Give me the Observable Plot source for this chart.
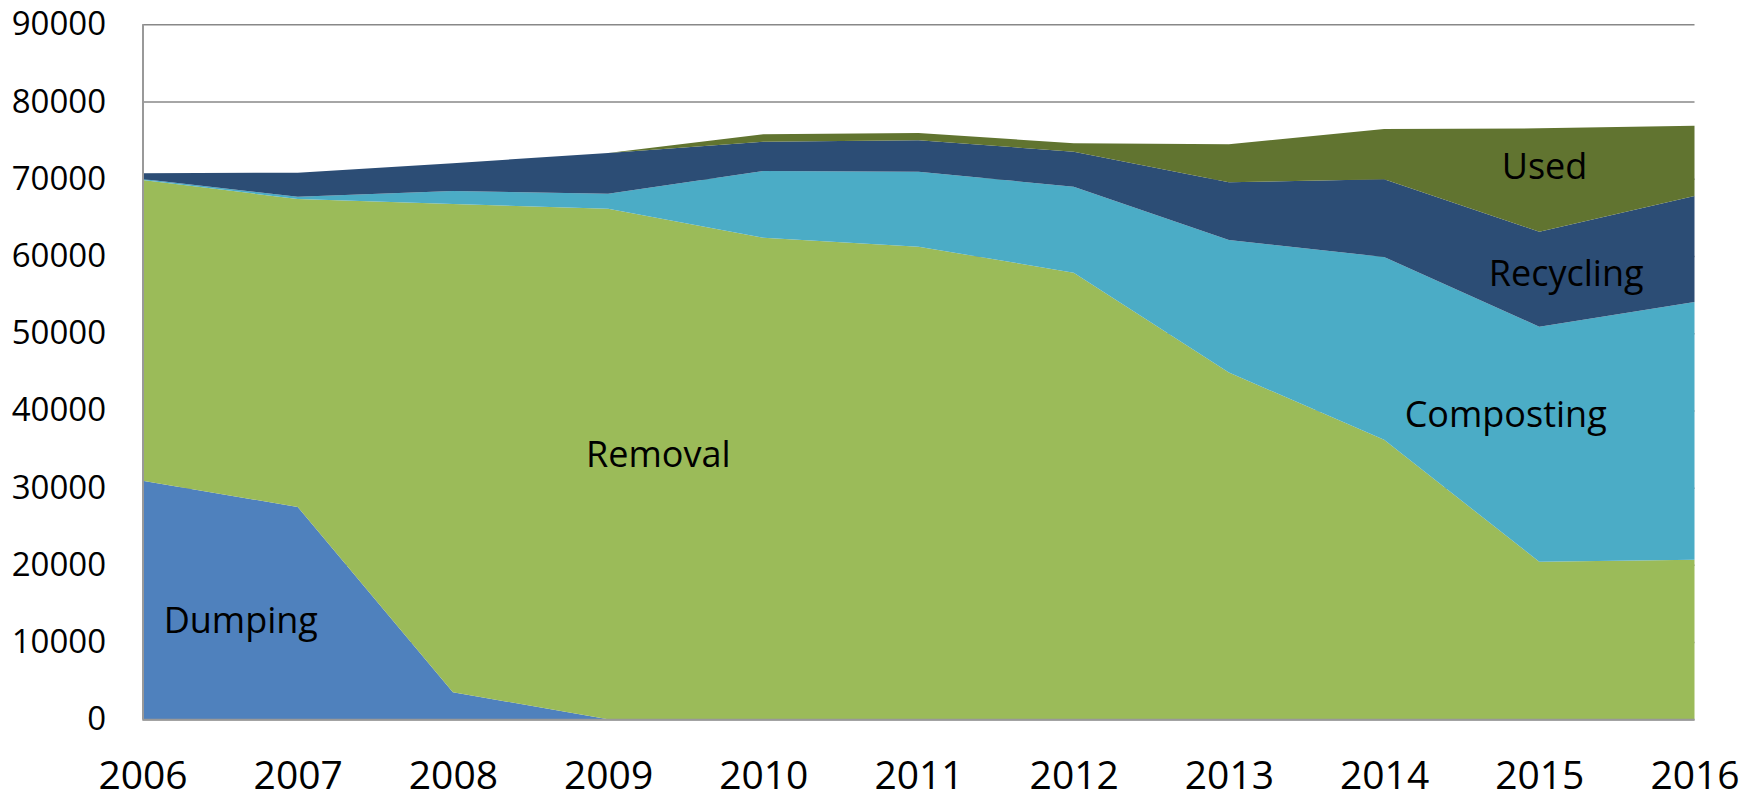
<!DOCTYPE html>
<html>
<head>
<meta charset="utf-8">
<script src="https://cdn.jsdelivr.net/npm/d3@7"></script>
<script src="https://cdn.jsdelivr.net/npm/@observablehq/plot@0.6"></script>
<style>
  html, body { margin: 0; padding: 0; background: #fff; }
  #chart svg { display: block; }
</style>
</head>
<body>
<div id="chart"></div>
<script>
const years = [2006, 2007, 2008, 2009, 2010, 2011, 2012, 2013, 2014, 2015, 2016];
const series = ["Dumping", "Removal", "Composting", "Recycling", "Used"];
const colors = ["#4F81BD", "#9BBB59", "#4BACC6", "#2C4D75", "#617430"];

const dumping    = [30900, 27500, 3500, 0, 0, 0, 0, 0, 0, 0, 0];
const removal    = [38940, 39880, 63230, 66100, 62370, 61200, 57840, 44900, 36200, 20400, 20650];
const composting = [130, 300, 1690, 1950, 8630, 9710, 11130, 17170, 23670, 30440, 33390];
const recycling  = [730, 3110, 3580, 5300, 3800, 4070, 4530, 7470, 10060, 12310, 13730];
const used       = [0, 0, 0, 0, 960, 950, 1090, 4920, 6510, 13380, 9100];

const yTicks = [0, 10000, 20000, 30000, 40000, 50000, 60000, 70000, 80000, 90000];

const labels = [
  {text: "Dumping",    year: 2006.63, value: 12730},
  {text: "Removal",    year: 2009.32, value: 34230},
  {text: "Composting", year: 2014.78, value: 39410},
  {text: "Recycling",  year: 2015.17, value: 57670},
  {text: "Used",       year: 2015.03, value: 71500}
];

const valuesBySeries = {Dumping: dumping, Removal: removal, Composting: composting, Recycling: recycling, Used: used};
const data = [];
for (const s of series) {
  years.forEach((yr, i) => data.push({year: yr, series: s, value: valuesBySeries[s][i]}));
}

const chart = Plot.plot({
  width: 1750,
  height: 801,
  marginLeft: 142.5,
  marginRight: 55.5,
  marginTop: 24.3,
  marginBottom: 81.7,
  style: {fontFamily: "'Open Sans', sans-serif", background: "#fff", color: "#000"},
  x: {domain: [2006, 2016], ticks: years, tickFormat: d => String(d)},
  y: {domain: [0, 90000], ticks: yTicks, tickFormat: d => String(d)},
  color: {domain: series, range: colors},
  marks: [
    Plot.ruleY(yTicks, {stroke: "#888888", strokeWidth: 1.5}),
    Plot.areaY(data, {x: "year", y: "value", z: "series", fill: "series", order: series}),
    Plot.ruleY([0], {stroke: "#999999", strokeWidth: 2}),
    Plot.ruleX([2006], {stroke: "#999999", strokeWidth: 2}),
    Plot.axisX({ticks: years, tickFormat: d => String(d), tickSize: 0, tickPadding: 41, fontSize: 39, label: null, fill: "#000"}),
    Plot.axisY({ticks: yTicks, tickFormat: d => String(d), tickSize: 0, tickPadding: 37, fontSize: 33, label: null, fill: "#000"}),
    Plot.text(labels, {x: "year", y: "value", text: "text", fontSize: 36, fill: "#000"})
  ]
});
document.getElementById("chart").appendChild(chart);
</script>
</body>
</html>
